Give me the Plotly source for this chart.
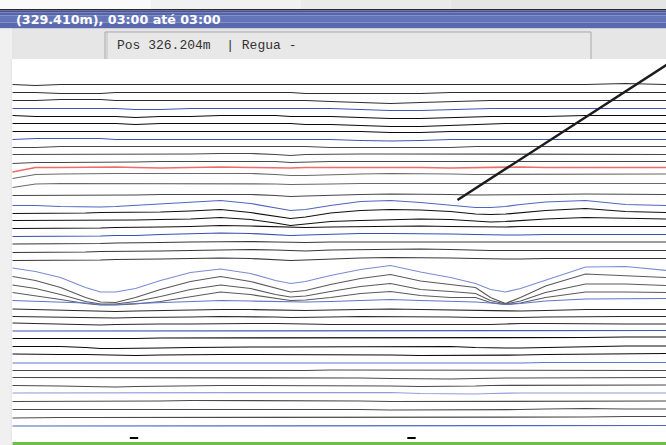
import plotly.graph_objects as go

# ---- data (screen-like units: x along the section, y downward) ----
X = [12, 35, 60, 85, 100, 115, 135, 160, 190, 220, 250, 275, 290, 305, 330,
     360, 390, 420, 450, 475, 490, 505, 520, 545, 585, 625, 666]

line_00 = [84,85,84,84,84,84,84,84,84,84,84,84,84,84,84,84,84,84,84,84,84,84,84,84,84,83,84]
line_01 = [92,92,93,93,93,92,92,92,92,92,92,92,92,93,93,93,93,93,92,92,92,92,92,92,91.5,91.5,92]
line_02 = [100,100,99,99,99,100,100,100,100,100,100,100,100,100,101,102,103,102,101,100,100,100,100,100,100,100,100]
line_03 = [108,108,108,108,108,108,109,109,108,108,108,108,108,108,108,109,110,110,109,108,108,108,108,108,108,108,108]
line_04 = [115,116,116,116,116,116,117,116,116,115,115,115,116,116,116,117,118,118,117,116,116,116,116,116,115,115,115]
line_05 = [123,123,123,123,123,123,124,123,123,123,123,123,123,124,124,125,126,126,125,124,123,123,123,123,123,123,123]
line_06 = [131,131,130.5,130.5,131,131,131,131,131,131,131,131,131,131,131,131,132,132,131,131,131,131,131,131,130.5,131,131]
line_07 = [139,138,138,138,138,139,139,139,139,138.5,138.5,138.5,138.5,139,139,140,140.5,140,139,139,139,139,139,139,139,139,139]
line_08 = [147,147,146,146,146,146,146,146,146,146,146,146,146,146,147,147,147,147,147,146,146,146,146,146,146,146,146]
line_09 = [154,154,154,153.5,153.5,153.5,154,154,153.5,153,153,154,155,154,153.5,153.5,153.5,153.5,154,154,154,154,154,154,153.5,153.5,154]
line_10 = [163,162,162,162,162,162,161.5,161,161,160.5,160.5,161,162,161.5,161,161,161,161,161,161,161,161,161,161,161,161,161]
line_11 = [171.5,167,167,166.5,166.5,166.5,167,167.5,167,166.5,167,167.5,167.5,167,167,166.5,166.5,167,167.5,167,167,167,166.5,167,167,167.5,167]
line_12 = [178,174,173.5,173,173,173,173,173,173,173,173,174,175,175,174,173.5,173,173,173.5,174,174,174,174,174,173.5,173.5,173.5]
line_13 = [187,183.5,183,183,183,183,183,183,183,183,183,183.5,184,184,183.5,183,183,183,183.5,183.5,183.5,183.5,183.5,183.5,183,183,183]
line_14 = [195,195,195,195,194.5,194.5,194.5,194,194,193.5,194,195,196,195.5,194.5,194,193.5,193.5,194,194.5,194.5,194.5,194.5,194,193.5,194,194]
line_15 = [205,205,206,206.5,206.5,206,205,203.5,202,200,203,207.5,210,209,205,201,200,202,205,207,207,206,204,201.5,200,204,205]
line_16 = [213,213,213,212.5,212,212,212,211.5,210.5,209,212,216,218,216.5,212.5,210,209,209.5,211,213.5,214,213.5,212,210,208,211,212]
line_17 = [220,220,220,220,220,220,219.5,219,218.5,217,219,222.5,225,223.5,221,220,219,218.5,219,221,221.5,221,220,218.5,217,218,218.5]
line_18 = [228,228,228,227.5,227.5,227,227,226.5,226,225,225.5,226,227,227,226.5,226,225.5,225.5,226,226.5,226.5,226.5,226,226,225.5,226,226]
line_19 = [236,236,236,235.5,235.5,235,235,234,233,232.5,233,234,235,234.5,233.5,233,233,233,233.5,234,234.5,234.5,234.5,234,234,234,234]
line_20 = [243.5,243.5,243,243,243,242.5,242.5,242,241.5,241,241,241.5,242,242,241.5,241.5,241.5,241.5,241.5,242,242,242,242,241.5,241.5,241.5,241.5]
line_21 = [252,252,251.5,251.5,251,251,251,250.5,250,249.5,249,249.5,250,250.5,249.5,249,248.5,248.5,249,250,250,250,250,250,249.5,249.5,250]
line_22 = [260,260,260,259.5,259.5,259,259,258.5,258,257.5,258,259,260,259.5,258.5,257.5,257,257,257.5,258,258.5,258.5,258.5,258,258,258,258]
line_23 = [267.5,271,277,287,291.5,291.5,288,280,272,268.5,273,280,283,281,275,269,265,271.5,277,283,289,291.5,288,280,266.5,266,270]
line_24 = [276,280,287,297,301.5,302,297,289,281,276,281,288,291.5,290,284,278,274,280.5,284,287,297,303,297,285.5,273.5,275,277]
line_25 = [284.5,288,294,301,303.5,303.5,301,296,289,284.5,288,294,296.5,295.5,291,286,283,289,291,293,300,303.5,300.5,292,283.5,283.5,285]
line_26 = [292,295,299,303,304.5,304.5,303.5,301,296,291.5,294,298,300,299.5,297,293,291,295,297,297,302,304,302.5,297,291.5,291.5,292]
line_27 = [300,301,301.5,302.5,304,304,303,302,301,300,300.5,301,301.5,301.5,301,300,299,300,300.5,301.5,302.5,304,303,300.5,298.5,298,298]
line_28 = [308.5,309,309.5,310.5,311,311,310.5,310,309.5,309,309,309.5,310,310,309.5,309,308.5,309,309.5,310,310.5,311,310.5,310,309,309,309]
line_29 = [316,316.5,316.5,317,317.5,317.5,317,317,316.5,316,316,316.5,317,317,316.5,316,316,316,316.5,317,317,317.5,317,316.5,316,316,316]
line_30 = [322.5,323,324,324.5,324.5,324,323.5,323.5,323.5,323,323,323,323,323.5,324,324,324,324.5,324.5,324,324,323.5,323,323,323.5,323.5,323.5]
line_31 = [330.5,330.5,330,330,330.5,330.5,330.5,330,330,330,330,330,330,330,330,330,330,330,330,330,330,330,330.5,330.5,330,330,330]
line_32 = [338,338,338,338.5,338.5,338,338,337.5,337.5,337.5,337.5,337.5,337.5,337.5,337,337,337.5,337.5,337.5,337.5,337.5,337.5,337.5,337.5,337,336.5,336.5]
line_33 = [346,346,346,347,348,348,347.5,347.5,347,346.5,346.5,346.5,346.5,346.5,346.5,346.5,346,346,346,347,347.5,347.5,347.5,347,346,345.5,345.5]
line_34 = [353.5,354,354,354,354.5,355,355,354.5,354,354,354,354,354,354,354,354.5,354.5,355,355,355,355,354.5,354.5,354,353.5,353.5,353]
line_35 = [362.5,362.5,362.5,363,363,362.5,362.5,362.5,362.5,362.5,362.5,362.5,362.5,362.5,362.5,362.5,362.5,362.5,362.5,362.5,362.5,362.5,362.5,362,362,362,362]
line_36 = [370,370,370,370.5,370.5,370.5,370,370,370,370,370,370,370,370,369.5,369.5,370,370,370,370,370,370,370,369.5,369.5,369.5,370]
line_37 = [377,377,377,377,377.5,377.5,377.5,377.5,377,377,377,377,377,377,377,377.5,378,378.5,378.5,378,377.5,377.5,377.5,377.5,377,377,377]
line_38 = [385,385,385.5,386,386.5,386.5,386,385.5,385.5,385,385,385,385,385,385,385,385.5,386,386,385.5,385,385,385,385,385,384.5,384.5]
line_39 = [392.5,392.5,392.5,392.5,392.5,392.5,392.5,392.5,392.5,392.5,392.5,392.5,392.5,392.5,392.5,392,392,393,393.5,393.5,393,392.5,392.5,392.5,392.5,392.5,392.5]
line_40 = [401,401,400.5,400.5,400.5,400.5,400.5,400.5,400,400,400,400,400,400,400,400.5,401,401,401,400.5,400.5,400.5,400.5,400.5,400.5,400.5,400.5]
line_41 = [409,409,408.5,408.5,409,408.5,408.5,408.5,408.5,408.5,408.5,408.5,408.5,408.5,408.5,409,409.5,409.5,409.5,409,409,409,409,408.5,408,408.5,408.5]
line_42 = [417.5,417,417,417,417,417,416.5,416.5,416.5,416.5,416.5,416.5,416.5,416.5,416.5,417,417,417,417,417,417,416.5,416.5,416.5,416.5,416,416]
line_43 = [425.5,425.5,425.5,425.5,425.5,425.5,425.5,425,425,425,425,425,425.5,425.5,425.5,425.5,425.5,425.5,425.5,425.5,425.5,425.5,425.5,425.5,425.5,425.5,425]

series = [line_00, line_01, line_02, line_03, line_04, line_05, line_06, line_07,
          line_08, line_09, line_10, line_11, line_12, line_13, line_14, line_15,
          line_16, line_17, line_18, line_19, line_20, line_21, line_22, line_23,
          line_24, line_25, line_26, line_27, line_28, line_29, line_30, line_31,
          line_32, line_33, line_34, line_35, line_36, line_37, line_38, line_39,
          line_40, line_41, line_42, line_43]

line_colors = [
    "#2e2e2e", "#2e2e2e", "#2e2e2e", "#3f56b0",
    "#0a0a0a", "#0a0a0a", "#0a0a0a", "#3f56b0",
    "#484848", "#484848", "#484848", "#f06a6a",
    "#6a6a6a", "#6a6a6a", "#484848", "#4f66bc",
    "#101010", "#101010", "#101010", "#3550ad",
    "#383838", "#383838", "#383838", "#7a8dd2",
    "#5a5a5a", "#5a5a5a", "#5a5a5a", "#5f76c8",
    "#282828", "#282828", "#282828", "#3f58b4",
    "#0a0a0a", "#0a0a0a", "#0a0a0a", "#5f76c8",
    "#4a4a4a", "#4a4a4a", "#4a4a4a", "#8e9dd4",
    "#4a4a4a", "#4a4a4a", "#4a4a4a", "#4f66bc",
]
line_widths = [1.2] * 11 + [1.6] + [1.2] * 32

ruler_x = [457, 676]
ruler_y = [199.5, 58]
tick_x = [133.5, 411]
tick_y = [437.5, 437.5]

title_text = "(329.410m), 03:00 até 03:00"
status_text = "Pos 326.204m\u00a0\u00a0| Regua -"

fig = go.Figure()
for ys, c, w in zip(series, line_colors, line_widths):
    fig.add_trace(go.Scatter(x=X, y=ys, mode="lines",
                             line=dict(color=c, width=w), hoverinfo="skip",
                             showlegend=False))

fig.add_trace(go.Scatter(x=ruler_x, y=ruler_y, mode="lines",
                         line=dict(color="#1c1c1c", width=2.5),
                         hoverinfo="skip", showlegend=False))
fig.add_trace(go.Scatter(x=tick_x, y=tick_y, mode="markers",
                         marker=dict(symbol="line-ew", size=6,
                                     line=dict(color="#000000", width=2)),
                         hoverinfo="skip", showlegend=False))

shapes = []
def rect(x0, y0, x1, y1, fill, line=None):
    d = dict(type="rect", xref="x", yref="y", x0=x0, y0=y0, x1=x1, y1=y1,
             fillcolor=fill, layer="above",
             line=dict(width=0) if line is None else line)
    shapes.append(d)

# top shadow strip
rect(-1, -1, 150, 9, "#fafafa")
rect(150, -1, 300, 9, "#f1f1f1")
rect(300, -1, 450, 9, "#eaeaea")
rect(450, -1, 667, 9, "#e5e5e5")
rect(-1, 8.5, 667, 10, "#2a2a2a")
# blue title bar
rect(-1, 10, 667, 12, "#44529a")
rect(-1, 12, 667, 15, "#5565ab")
rect(-1, 15, 667, 22, "#6474b9")
rect(-1, 22, 667, 28, "#5a69ae")
# toolbar
rect(-1, 28, 667, 58.5, "#e6e6e6")
rect(104.5, 31.5, 590.5, 60, "#e8e8e8",
     line=dict(color="#a8a8a8", width=1))
shapes.append(dict(type="line", xref="x", yref="y", x0=106.5, x1=106.5,
                   y0=31.5, y1=58.5, line=dict(color="#c0c0c0", width=1),
                   layer="above"))
rect(-1, 58.5, 667, 60.5, "#ffffff")
# left shadow strip
rect(-1, 28, 11.5, 446, "#f0f0f0")
rect(10, 58.5, 11.5, 446, "#e9e9e9")
# green bottom line
rect(12, 441.5, 667, 444.5, "#6cc04a")

fig.update_layout(
    width=666, height=445,
    margin=dict(l=0, r=0, t=0, b=0),
    paper_bgcolor="#ffffff", plot_bgcolor="#ffffff",
    xaxis=dict(range=[-0.5, 665.5], visible=False, fixedrange=True),
    yaxis=dict(range=[444.5, -0.5], visible=False, fixedrange=True),
    shapes=shapes,
    hovermode=False,
    annotations=[
        dict(x=13, y=19, xref="x", yref="y", xanchor="left", yanchor="middle",
             text="<b>" + title_text + "</b>", showarrow=False,
             font=dict(family="DejaVu Sans", size=12.7, color="#ffffff")),
        dict(x=114, y=44.5, xref="x", yref="y", xanchor="left", yanchor="middle",
             text=status_text, showarrow=False,
             font=dict(family="Liberation Mono", size=13, color="#333333")),
    ],
)

fig.write_html(
    "out.html",
    config={"displayModeBar": False},
    post_script="document.body.style.margin='0';document.body.style.overflow='hidden';",
)
